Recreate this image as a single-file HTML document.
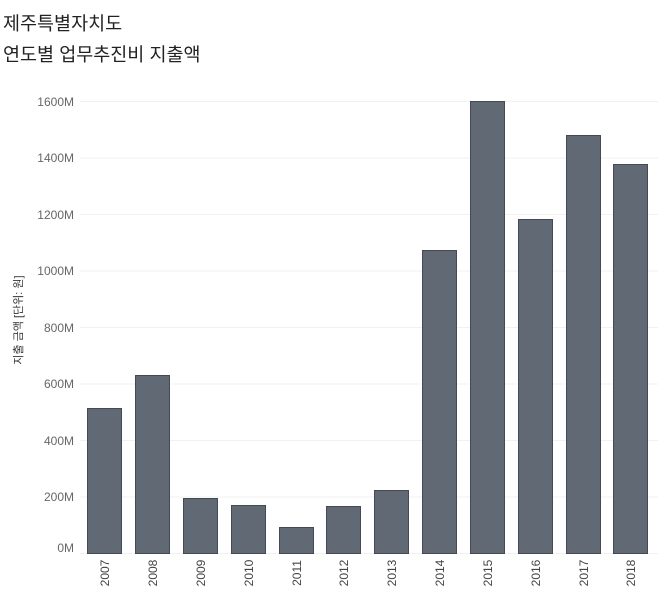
<!DOCTYPE html><html><head><meta charset="utf-8"><style>
body{margin:0;background:#fff;width:658px;height:598px;overflow:hidden;font-family:"Liberation Sans","Noto Sans CJK KR",sans-serif}
</style></head><body>
<svg width="658" height="598" xmlns="http://www.w3.org/2000/svg" font-family="Liberation Sans, Noto Sans CJK KR, sans-serif">
<rect width="658" height="598" fill="#fff"/>
<text x="3" y="30" font-size="18.5" fill="#222">제주특별자치도</text>
<text x="3" y="61" font-size="18.5" fill="#222">연도별 업무추진비 지출액</text>
<g stroke="#f1f1f1" stroke-width="1">
<line x1="80" x2="658" y1="101.5" y2="101.5"/><line x1="80" x2="658" y1="158" y2="158"/>
<line x1="80" x2="658" y1="214.5" y2="214.5"/><line x1="80" x2="658" y1="271" y2="271"/>
<line x1="80" x2="658" y1="327.5" y2="327.5"/><line x1="80" x2="658" y1="384" y2="384"/>
<line x1="80" x2="658" y1="440.5" y2="440.5"/><line x1="80" x2="658" y1="497" y2="497"/>
<line x1="80" x2="658" y1="553.5" y2="553.5"/></g>
<g font-size="12" fill="#666" text-anchor="end">
<text x="74" y="106">1600M</text><text x="74" y="162">1400M</text><text x="74" y="219">1200M</text>
<text x="74" y="275">1000M</text><text x="74" y="332">800M</text><text x="74" y="388">600M</text>
<text x="74" y="445">400M</text><text x="74" y="501">200M</text><text x="74" y="552">0M</text></g>
<text transform="translate(22,320) rotate(-90)" font-size="11" fill="#333" text-anchor="middle">지출 금액 [단위: 원]</text>
<g fill="#616a74" stroke="#444a52" stroke-width="1">
<rect x="87.5" y="408.5" width="34" height="145"/>
<rect x="135.5" y="375.5" width="34" height="178"/>
<rect x="183.5" y="498.5" width="34" height="55"/>
<rect x="231.5" y="505.5" width="34" height="48"/>
<rect x="279.5" y="527.5" width="34" height="26"/>
<rect x="326.5" y="506.5" width="34" height="47"/>
<rect x="374.5" y="490.5" width="34" height="63"/>
<rect x="422.5" y="250.5" width="34" height="303"/>
<rect x="470.5" y="101.5" width="34" height="452"/>
<rect x="518.5" y="219.5" width="34" height="334"/>
<rect x="566.5" y="135.5" width="34" height="418"/>
<rect x="613.5" y="164.5" width="34" height="389"/></g>
<g font-size="12" fill="#444" text-anchor="middle">
<text transform="translate(109,573) rotate(-90)">2007</text>
<text transform="translate(157,573) rotate(-90)">2008</text>
<text transform="translate(205,573) rotate(-90)">2009</text>
<text transform="translate(253,573) rotate(-90)">2010</text>
<text transform="translate(301,573) rotate(-90)">2011</text>
<text transform="translate(348,573) rotate(-90)">2012</text>
<text transform="translate(396,573) rotate(-90)">2013</text>
<text transform="translate(444,573) rotate(-90)">2014</text>
<text transform="translate(492,573) rotate(-90)">2015</text>
<text transform="translate(540,573) rotate(-90)">2016</text>
<text transform="translate(588,573) rotate(-90)">2017</text>
<text transform="translate(635,573) rotate(-90)">2018</text></g>
</svg></body></html>
